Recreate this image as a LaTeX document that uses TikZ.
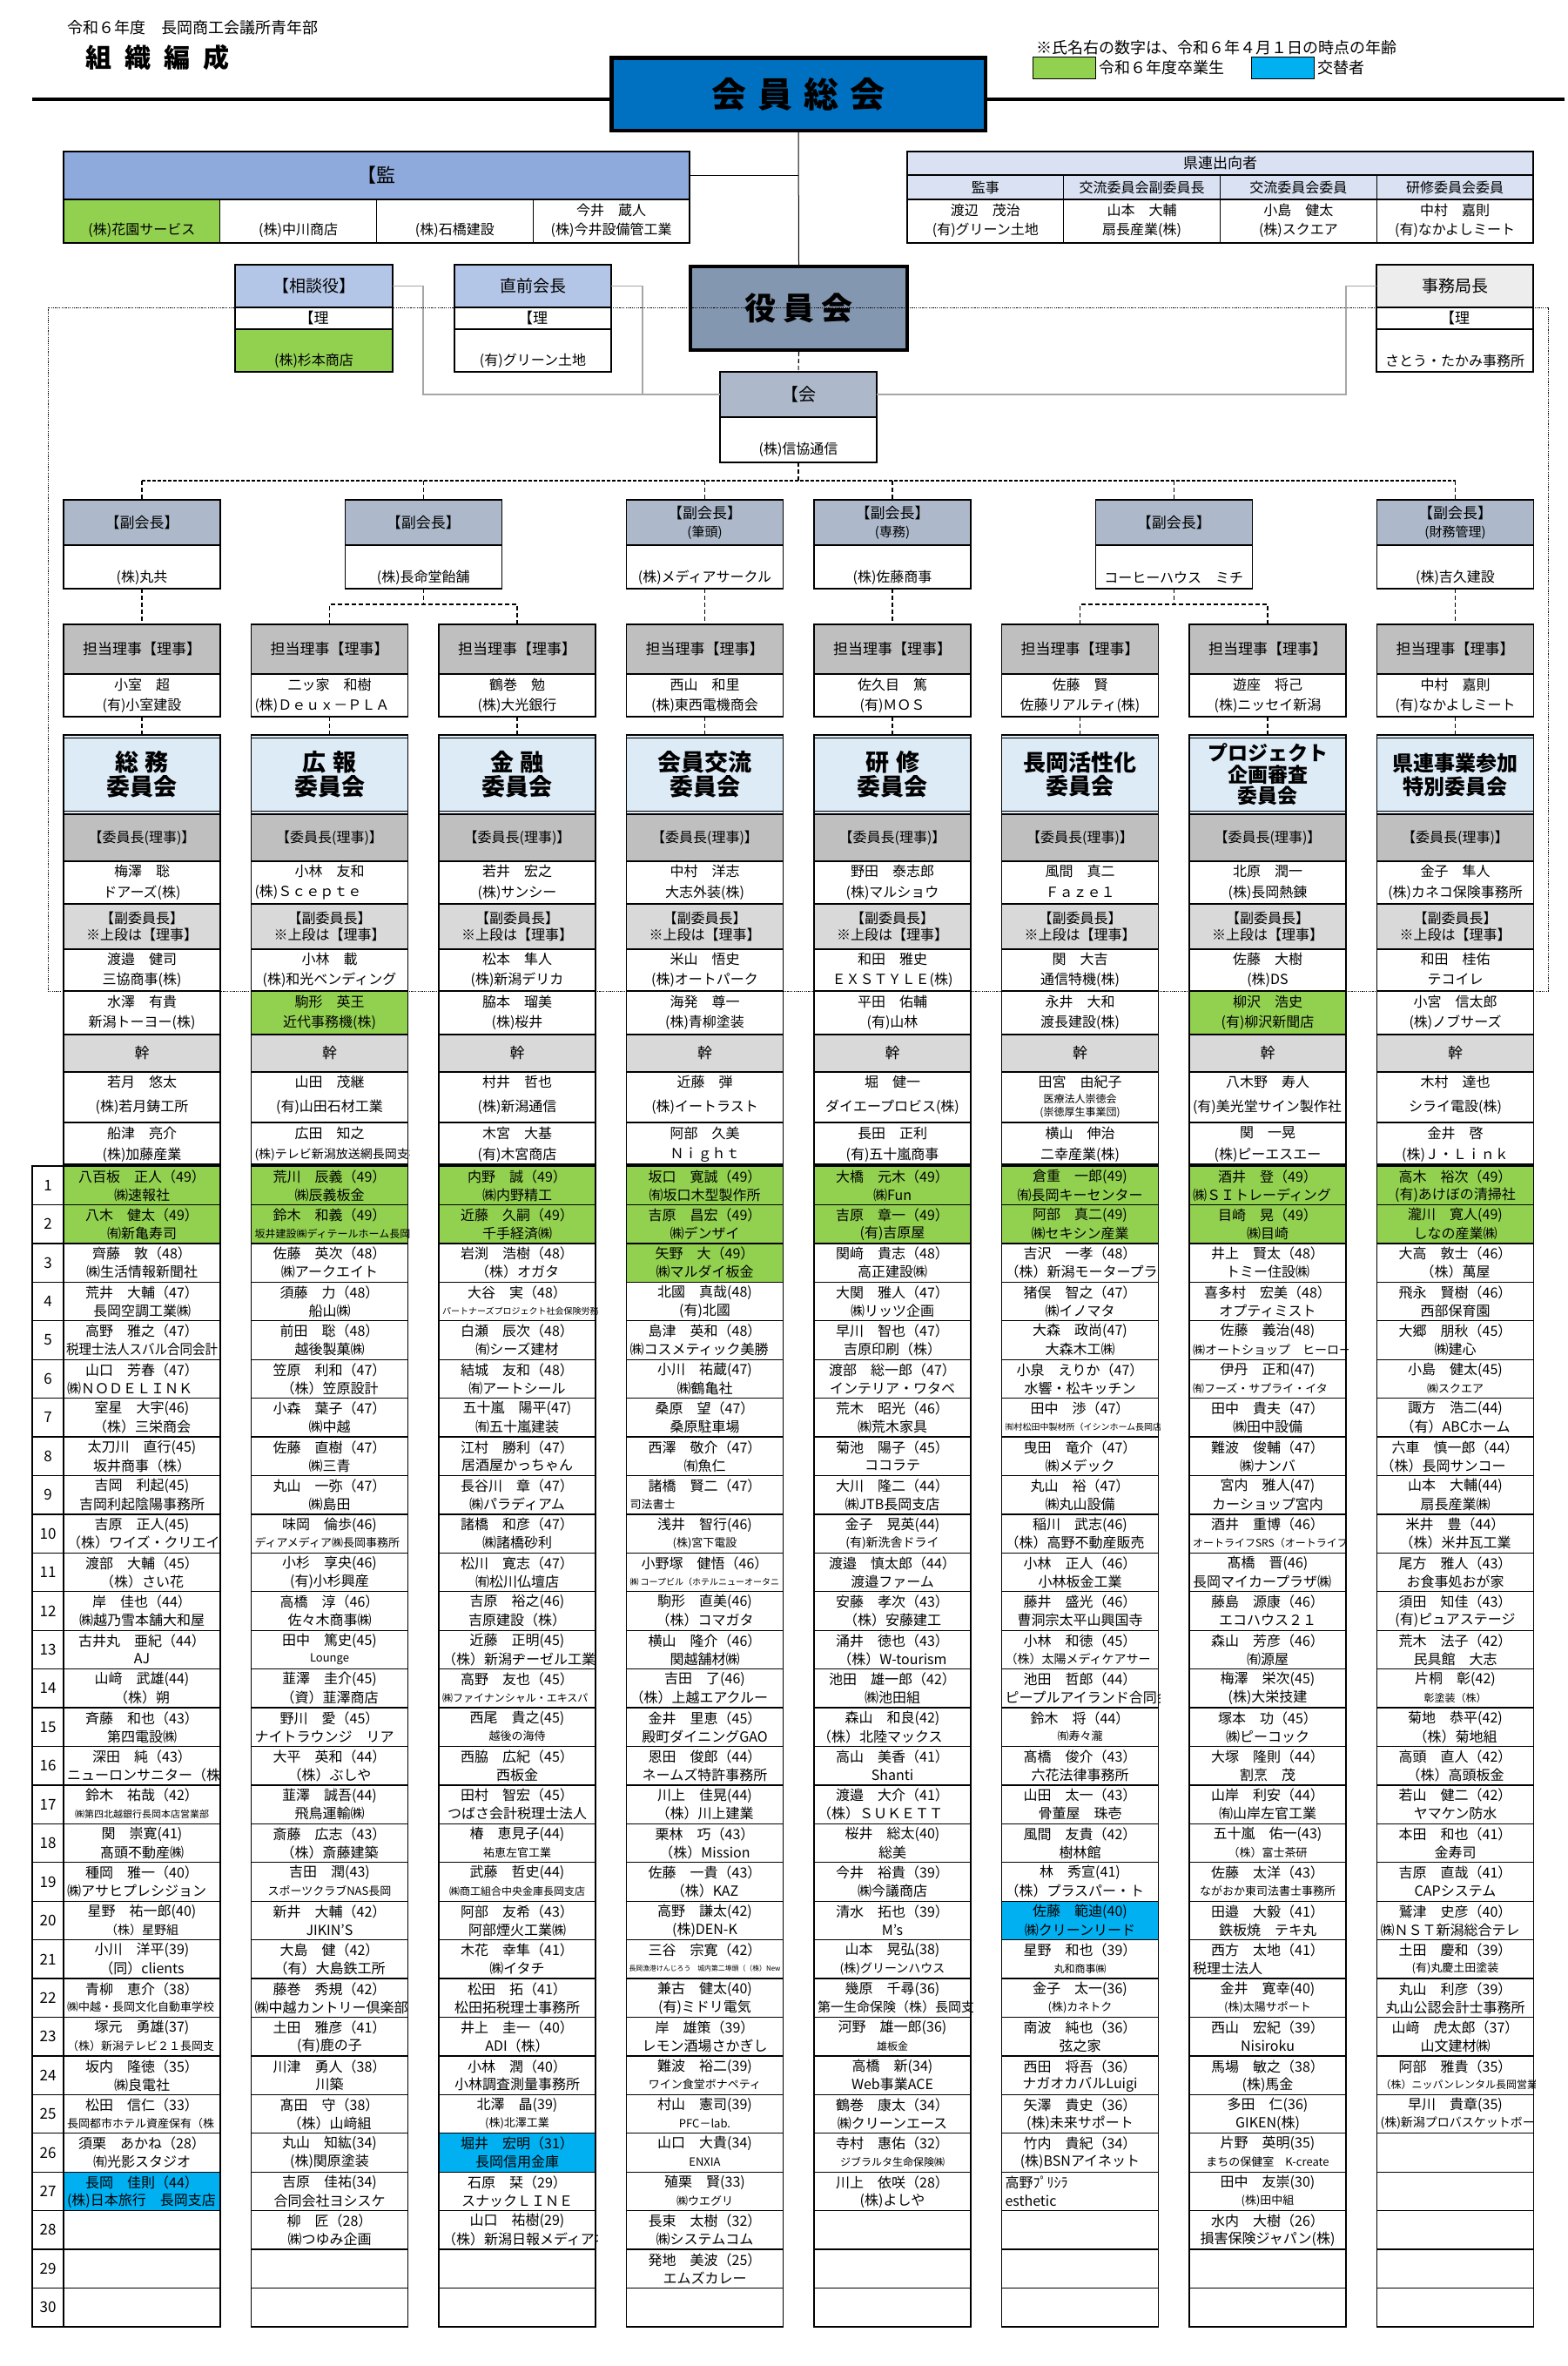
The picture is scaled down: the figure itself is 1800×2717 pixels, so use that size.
\documentclass[tikz,border=0pt]{standalone}
\usepackage{fontspec}
\setmainfont{Noto Sans CJK JP}
\usepackage{graphicx}
\definecolor{sokai}{HTML}{0070C0}
\definecolor{kanhd}{HTML}{8EA9DB}
\definecolor{kenren}{HTML}{D9E1F2}
\definecolor{sodan}{HTML}{B4C6E7}
\definecolor{yakuin}{HTML}{8497B0}
\definecolor{kaihd}{HTML}{ADB9CA}
\definecolor{jimu}{HTML}{EDEDED}
\definecolor{titlefill}{HTML}{DDEBF7}
\definecolor{hdrdark}{HTML}{BFBFBF}
\definecolor{hdrlight}{HTML}{D9D9D9}
\definecolor{gr}{HTML}{92D050}
\definecolor{bl}{HTML}{00B0F0}
\definecolor{connc}{HTML}{A6A6A6}
\newsavebox\fitbox
\newcommand\fitc[1]{\sbox\fitbox{#1}\ifdim\wd\fitbox>174pt\relax\resizebox{174pt}{\height}{\usebox\fitbox}\else\usebox\fitbox\fi}
\newcommand\clipt[1]{\makebox[172pt][l]{#1}}
\newcommand\fs[1]{\fontsize{#1}{#1}\selectfont}
\newcommand\sz[2]{{\fontsize{#1}{#1}\selectfont #2}}
\newcommand\ttl{\bfseries\fontsize{27}{28}\selectfont}
\tikzset{
 cbox/.style={draw, line width=1.3pt, anchor=north west, minimum width=180pt, inner sep=0pt, outer sep=0pt, font=\fs{16}},
 txt/.style={inner sep=0pt, font=\fs{16}},
 dsh/.style={line width=1.1pt, dash pattern=on 5pt off 3pt},
 conn/.style={line width=1.5pt, draw=connc},
}
\newcommand\colstart[1]{\pgfmathsetmacro\cx{73+215.5*(#1-1)}\pgfmathsetmacro\cxm{\cx+90}\edef\ci{#1}}
\newcommand\tanto[2]{%
 \node[cbox, fill=hdrdark, minimum height=57pt, font=\fs{17}] (th\ci) at (\cx,717) {担当理事【理事】};
 \node[cbox, minimum height=49pt] (tb\ci) at (\cx,774) {};
 \node[txt] (tbn\ci) at (\cxm,786) {\fitc{#1}};
 \node[txt] (tbc\ci) at (\cxm,810) {\fitc{#2}};}
\newcommand\ctitle[2]{%
 \node[cbox, fill=titlefill, minimum height=91pt, align=center, font=#1] (ct\ci) at (\cx,844) {#2};
 \draw[line width=1.3pt] (\cx,847.5) -- ++(180,0);
 \draw[line width=1.3pt] (\cx,931.5) -- ++(180,0);
 \draw[dsh] (tb\ci.south) -- (ct\ci.north);}
\newcommand\chair[2]{%
 \node[cbox, fill=hdrdark, minimum height=54pt] (chh\ci) at (\cx,935) {【委員長(理事)】};
 \node[cbox, minimum height=49pt] (chb\ci) at (\cx,989) {};
 \node[txt] (chn\ci) at (\cxm,1000) {\fitc{#1}};
 \node[txt] (chc\ci) at (\cxm,1025) {\fitc{#2}};
 \node[cbox, fill=hdrlight, minimum height=52pt, align=center, font=\fontsize{16}{19}\selectfont] (vh\ci) at (\cx,1038) {【副委員長】\\※上段は【理事】};}
\newcommand\viceA[3]{%
 \node[cbox, fill=#1, minimum height=48pt] (va\ci) at (\cx,1090) {};
 \node[txt] (van\ci) at (\cxm,1101) {\fitc{#2}};
 \node[txt] (vac\ci) at (\cxm,1125) {\fitc{#3}};}
\newcommand\viceB[3]{%
 \node[cbox, fill=#1, minimum height=50pt] (vb\ci) at (\cx,1138) {};
 \node[txt] (vbn\ci) at (\cxm,1150) {\fitc{#2}};
 \node[txt] (vbc\ci) at (\cxm,1174) {\fitc{#3}};}
\newcommand\kan[4]{%
 \node[cbox, fill=hdrlight, minimum height=43pt, font=\fs{17}] (kh\ci) at (\cx,1188) {幹};
 \node[cbox, minimum height=58pt] (ka\ci) at (\cx,1231) {};
 \node[txt] (kan\ci) at (\cxm,1242) {\fitc{#1}};
 \node[txt] (kac\ci) at (\cxm,1271) {\fitc{#2}};
 \node[cbox, minimum height=48pt] (kb\ci) at (\cx,1289) {};
 \node[txt] (kbn\ci) at (\cxm,1301) {\fitc{#3}};
 \node[txt] (kbc\ci) at (\cxm,1326) {\fitc{#4}};}
\newcommand\mrow[4]{%
 \pgfmathsetmacro\ry{1339+44.43*(#1-1)}%
 \node[cbox, fill=#2, minimum height=44.43pt] (m\ci-#1) at (\cx,\ry) {};
 \node[txt] (m\ci-#1n) at (\cxm,\ry+12) {\fitc{#3}};
 \node[txt] (m\ci-#1c) at (\cxm,\ry+33) {\fitc{#4}};}
\newcommand\erows[2]{\foreach \rr in {#1,...,#2}{\pgfmathsetmacro\ry{1339+44.43*(\rr-1)}\node[cbox, minimum height=44.43pt] (m\ci-\rr) at (\cx,\ry) {};}}
\newcommand\colend{\draw[line width=3pt] (\cx,1338) -- ++(180,0);}
\newcommand\fuku[4]{%
 \node[cbox, fill=kaihd, minimum height=52pt, align=center, font=\fontsize{17}{21}\selectfont] (#1h) at (#2,574) {#3};
 \node[cbox, minimum height=50pt] (#1b) at (#2,626) {};
 \node[txt] (#1c) at (#2+90,663) {\fitc{#4}};}
\begin{document}
\begin{tikzpicture}[x=1pt, y=-1pt, line join=miter]
\fill[white] (0,0) rectangle (1800,2717);
\useasboundingbox (0,0) rectangle (1800,2717);
% ---- header
\node[anchor=west, inner sep=0, font=\fs{18}] (hdr1) at (77,32) {令和６年度　長岡商工会議所青年部};
\node[anchor=west, inner sep=0, font=\bfseries\fs{30}] (hdr2) at (98,66) {組\hspace{15pt}織\hspace{15pt}編\hspace{15pt}成};
\draw[line width=4.5pt] (37,114) -- (1797,114);
\node[draw, line width=4.5pt, fill=sokai, minimum width=429.5pt, minimum height=83.5pt, inner sep=0, font=\bfseries\fs{40}] (sokai) at (917,108) {会\hspace{13pt}員\hspace{13pt}総\hspace{13pt}会};
\node[anchor=west, inner sep=0, font=\fs{18}] (note) at (1190,55) {※氏名右の数字は、令和６年４月１日の時点の年齢};
\node[draw, line width=1.3pt, fill=gr, anchor=north west, minimum width=72pt, minimum height=25pt, inner sep=0] (leggr) at (1186,65) {};
\node[anchor=west, inner sep=0, font=\fs{18}] (leggrt) at (1262,78) {令和６年度卒業生};
\node[draw, line width=1.3pt, fill=bl, anchor=north west, minimum width=72pt, minimum height=25pt, inner sep=0] (legbl) at (1437,65) {};
\node[anchor=west, inner sep=0, font=\fs{18}] (legblt) at (1513,78) {交替者};
% ---- audit
\node[cbox, minimum width=719pt, minimum height=55pt, fill=kanhd, font=\fs{22}] (audh) at (73,174) {【監};
\node[cbox, minimum width=179.75pt, minimum height=50pt, fill=gr] (aud1) at (73,229) {};
\node[cbox, minimum width=179.75pt, minimum height=50pt] (aud2) at (252.75,229) {};
\node[cbox, minimum width=179.75pt, minimum height=50pt] (aud3) at (432.5,229) {};
\node[cbox, minimum width=179.75pt, minimum height=50pt] (aud4) at (612.25,229) {};
\node[txt] (aud1c) at (162.9,264) {(株)花園サービス};
\node[txt] (aud2c) at (342.6,264) {(株)中川商店};
\node[txt] (aud3c) at (522.4,264) {(株)石橋建設};
\node[txt] (aud4n) at (702.1,241) {今井　蔵人};
\node[txt] (aud4c) at (702.1,264) {(株)今井設備管工業};
% ---- kenren
\node[cbox, minimum width=719pt, minimum height=27pt, fill=kenren, font=\fs{17}] (kenh) at (1042,174) {県連出向者};
\foreach \i/\lab in {1/監事, 2/交流委員会副委員長, 3/交流委員会委員, 4/研修委員会委員} {
 \pgfmathsetmacro\kx{1042+179.75*(\i-1)}
 \node[cbox, minimum width=179.75pt, minimum height=28pt, fill=kenren] (kenl\i) at (\kx,201) {\lab};
 \node[cbox, minimum width=179.75pt, minimum height=50pt] (kenb\i) at (\kx,229) {};
}
\node[txt] (ken1n) at (1131.9,241) {渡辺　茂治};
\node[txt] (ken1c) at (1131.9,264) {(有)グリーン土地};
\node[txt] (ken2n) at (1311.6,241) {山本　大輔};
\node[txt] (ken2c) at (1311.6,264) {扇長産業(株)};
\node[txt] (ken3n) at (1491.4,241) {小島　健太};
\node[txt] (ken3c) at (1491.4,264) {(株)スクエア};
\node[txt] (ken4n) at (1671.1,241) {中村　嘉則};
\node[txt] (ken4c) at (1671.1,264) {(有)なかよしミート};
% ---- yakuin
\node[draw, line width=4pt, fill=yakuin, minimum width=249pt, minimum height=96pt, inner sep=0, font=\bfseries\fs{36}] (yakuin) at (917.5,354) {役\hspace{8pt}員\hspace{8pt}会};
% sodan
\node[cbox, minimum width=181pt, minimum height=49pt, fill=sodan, font=\fs{19}] (sodh) at (270,304) {【相談役】};
\node[cbox, minimum width=181pt, minimum height=25pt, font=\fs{17}] (sodr) at (270,353) {【理};
\node[cbox, minimum width=181pt, minimum height=49pt, fill=gr] (sodb) at (270,378) {};
\node[txt] (sodc) at (360.5,414) {(株)杉本商店};
\node[cbox, minimum width=180pt, minimum height=49pt, fill=sodan, font=\fs{19}] (zenh) at (522,304) {直前会長};
\node[cbox, minimum width=180pt, minimum height=25pt, font=\fs{17}] (zenr) at (522,353) {【理};
\node[cbox, minimum width=180pt, minimum height=49pt] (zenb) at (522,378) {};
\node[txt] (zenc) at (612,414) {(有)グリーン土地};
\node[cbox, minimum width=180pt, minimum height=49pt, fill=jimu, font=\fs{19}] (jimh) at (1581,304) {事務局長};
\node[cbox, minimum width=180pt, minimum height=25pt, font=\fs{17}] (jimr) at (1581,353) {【理};
\node[cbox, minimum width=180pt, minimum height=49pt] (jimb) at (1581,378) {};
\node[txt] (jimc) at (1671,414) {さとう・たかみ事務所};
\node[cbox, fill=kaihd, minimum height=52pt, font=\fs{20}] (kaih) at (827,427) {【会};
\node[cbox, minimum height=52pt] (kaib) at (827,479) {};
\node[txt] (kaic) at (917,516) {(株)信協通信};
% ---- vice presidents
\fuku{fk1}{73}{【副会長】}{(株)丸共}
\fuku{fk2}{396.25}{【副会長】}{(株)長命堂飴舗}
\fuku{fk3}{719.5}{【副会長】\\{\fs{15}(筆頭)}}{(株)メディアサークル}
\fuku{fk4}{935}{【副会長】\\{\fs{15}(専務)}}{(株)佐藤商事}
\fuku{fk5}{1258.25}{【副会長】}{コーヒーハウス　ミチ}
\fuku{fk6}{1581.5}{【副会長】\\{\fs{15}(財務管理)}}{(株)吉久建設}
% ---- number column
\foreach \nn in {1,...,30} {
 \pgfmathsetmacro\ny{1339+44.43*(\nn-1)}
 \node[cbox, minimum width=36pt, minimum height=44.43pt, font=\fs{17}] (num\nn) at (37,\ny) {\nn};
}
% ================= column 1
\colstart{1}
\begin{scope}
\clip (\cx-2,700) rectangle (\cx+182,2680);
\tanto{小室　超}{(有)小室建設}
\ctitle{\ttl}{総\hspace{8pt}務\\委員会}
\chair{梅澤　聡}{ドアーズ(株)}
\viceA{white}{渡邉　健司}{三協商事(株)}
\viceB{white}{水澤　有貴}{新潟トーヨー(株)}
\kan{若月　悠太}{(株)若月鋳工所}{船津　亮介}{(株)加藤産業}
\mrow{1}{gr}{八百板　正人（49）}{㈱速報社}
\mrow{2}{gr}{八木　健太（49）}{㈲新亀寿司}
\mrow{3}{white}{齊藤　敦（48）}{㈱生活情報新聞社}
\mrow{4}{white}{荒井　大輔（47）}{長岡空調工業㈱}
\mrow{5}{white}{高野　雅之（47）}{税理士法人スバル合同会計}
\mrow{6}{white}{山口　芳春（47）}{\clipt{㈱ＮＯＤＥＬＩＮＫ}}
\mrow{7}{white}{室星　大宇(46)}{（株）三栄商会}
\mrow{8}{white}{太刀川　直行(45)}{坂井商事（株）}
\mrow{9}{white}{吉岡　利起(45)}{吉岡利起陰陽事務所}
\mrow{10}{white}{吉原　正人(45)}{\clipt{（株）ワイズ・クリエイ}}
\mrow{11}{white}{渡部　大輔（45）}{（株）さい花}
\mrow{12}{white}{岸　佳也（44）}{㈱越乃雪本舗大和屋}
\mrow{13}{white}{古井丸　亜紀（44）}{AJ}
\mrow{14}{white}{山﨑　武雄(44)}{（株）朔}
\mrow{15}{white}{斉藤　和也（43）}{第四電設㈱}
\mrow{16}{white}{深田　純（43）}{\clipt{ニューロンサニター（株}}
\mrow{17}{white}{鈴木　祐哉（42）}{\sz{11}{㈱第四北越銀行長岡本店営業部}}
\mrow{18}{white}{関　崇寛(41)}{髙頭不動産㈱}
\mrow{19}{white}{種岡　雅一（40）}{\clipt{㈱アサヒプレシジョン}}
\mrow{20}{white}{星野　祐一郎(40)}{\sz{14}{（株）星野組}}
\mrow{21}{white}{小川　洋平(39)}{（同）clients}
\mrow{22}{white}{青柳　恵介（38）}{\clipt{\sz{13}{㈱中越・長岡文化自動車学校}}}
\mrow{23}{white}{塚元　勇雄(37)}{\clipt{\sz{13}{（株）新潟テレビ２１長岡支}}}
\mrow{24}{white}{坂内　隆徳（35）}{㈱良電社}
\mrow{25}{white}{松田　信仁（33）}{\clipt{\sz{13}{長岡都市ホテル資産保有（株}}}
\mrow{26}{white}{須栗　あかね（28）}{㈲光影スタジオ}
\mrow{27}{bl}{長岡　佳則（44）}{\clipt{(株)日本旅行　長岡支店}}
\erows{28}{30}
\colend
\end{scope}
% ================= column 2
\colstart{2}
\begin{scope}
\clip (\cx-2,700) rectangle (\cx+182,2680);
\tanto{二ッ家　和樹}{\clipt{(株)Ｄｅｕｘ－ＰＬＡ}}
\ctitle{\ttl}{広\hspace{8pt}報\\委員会}
\chair{小林　友和}{\clipt{(株)Ｓｃｅｐｔｅ}}
\viceA{white}{小林　載}{(株)和光ベンディング}
\viceB{gr}{駒形　英王}{近代事務機(株)}
\kan{山田　茂継}{(有)山田石材工業}{広田　知之}{\clipt{\sz{14}{(株)テレビ新潟放送網長岡支社}}}
\mrow{1}{gr}{荒川　辰義（49）}{㈱辰義板金}
\mrow{2}{gr}{鈴木　和義（49）}{\clipt{\sz{12}{坂井建設㈱ディテールホーム長岡支店}}}
\mrow{3}{white}{佐藤　英次（48）}{㈱アークエイト}
\mrow{4}{white}{須藤　力（48）}{船山㈱}
\mrow{5}{white}{前田　聡（48）}{越後製菓㈱}
\mrow{6}{white}{笠原　利和（47）}{（株）笠原設計}
\mrow{7}{white}{小森　葉子（47）}{㈱中越}
\mrow{8}{white}{佐藤　直樹（47）}{㈱三青}
\mrow{9}{white}{丸山　一弥（47）}{㈱島田}
\mrow{10}{white}{味岡　倫歩(46)}{\clipt{\sz{13}{ディアメディア㈱長岡事務所}}}
\mrow{11}{white}{小杉　享央(46)}{(有)小杉興産}
\mrow{12}{white}{高橋　淳（46）}{佐々木商事㈱}
\mrow{13}{white}{田中　篤史(45)}{\sz{13}{Lounge}}
\mrow{14}{white}{韮澤　圭介(45)}{（資）韮澤商店}
\mrow{15}{white}{野川　愛（45）}{\clipt{ナイトラウンジ　リア}}
\mrow{16}{white}{大平　英和（44）}{（株）ぶしや}
\mrow{17}{white}{韮澤　誠吾(44)}{飛鳥運輸㈱}
\mrow{18}{white}{斎藤　広志（43）}{（株）斎藤建築}
\mrow{19}{white}{吉田　潤(43)}{\sz{13}{スポーツクラブNAS長岡}}
\mrow{20}{white}{新井　大輔（42）}{JIKIN’S}
\mrow{21}{white}{大島　健（42）}{（有）大島鉄工所}
\mrow{22}{white}{藤巻　秀規（42）}{\clipt{㈱中越カントリー倶楽部}}
\mrow{23}{white}{土田　雅彦（41）}{(有)鹿の子}
\mrow{24}{white}{川津　勇人（38）}{川築}
\mrow{25}{white}{髙田　守（38）}{（株）山﨑組}
\mrow{26}{white}{丸山　知紘(34)}{(株)関原塗装}
\mrow{27}{white}{吉原　佳祐(34)}{合同会社ヨシスケ}
\mrow{28}{white}{柳　匠（28）}{㈱つゆみ企画}
\erows{29}{30}
\colend
\end{scope}
% ================= column 3
\colstart{3}
\begin{scope}
\clip (\cx-2,700) rectangle (\cx+182,2680);
\tanto{鶴巻　勉}{(株)大光銀行}
\ctitle{\ttl}{金\hspace{8pt}融\\委員会}
\chair{若井　宏之}{(株)サンシー}
\viceA{white}{松本　隼人}{(株)新潟デリカ}
\viceB{white}{脇本　瑠美}{(株)桜井}
\kan{村井　哲也}{(株)新潟通信}{木宮　大基}{(有)木宮商店}
\mrow{1}{gr}{内野　誠（49）}{㈱内野精工}
\mrow{2}{gr}{近藤　久嗣（49）}{千手経済㈱}
\mrow{3}{white}{岩渕　浩樹（48）}{（株）オガタ}
\mrow{4}{white}{大谷　実（48）}{\clipt{\sz{10}{パートナーズプロジェクト社会保険労務士法}}}
\mrow{5}{white}{白瀬　辰次（48）}{㈲シーズ建材}
\mrow{6}{white}{結城　友和（48）}{㈲アートシール}
\mrow{7}{white}{五十嵐　陽平(47)}{㈲五十嵐建装}
\mrow{8}{white}{江村　勝利（47）}{居酒屋かっちゃん}
\mrow{9}{white}{長谷川　章（47）}{㈱パラディアム}
\mrow{10}{white}{諸橋　和彦（47）}{㈱諸橋砂利}
\mrow{11}{white}{松川　寛志（47）}{㈲松川仏壇店}
\mrow{12}{white}{吉原　裕之(46)}{吉原建設（株）}
\mrow{13}{white}{近藤　正明(45)}{\clipt{（株）新潟ヂーゼル工業}}
\mrow{14}{white}{高野　友也（45）}{\clipt{\sz{12}{㈱ファイナンシャル・エキスパ}}}
\mrow{15}{white}{西尾　貴之(45)}{\sz{13}{越後の海侍}}
\mrow{16}{white}{西脇　広紀（45）}{西板金}
\mrow{17}{white}{田村　智宏（45）}{つばさ会計税理士法人}
\mrow{18}{white}{椿　恵見子(44)}{\sz{13}{祐恵左官工業}}
\mrow{19}{white}{武藤　哲史(44)}{\sz{12}{㈱商工組合中央金庫長岡支店}}
\mrow{20}{white}{阿部　友希（43）}{阿部煙火工業㈱}
\mrow{21}{white}{木花　幸隼（41）}{㈱イタチ}
\mrow{22}{white}{松田　拓（41）}{松田拓税理士事務所}
\mrow{23}{white}{井上　圭一（40）}{ADI（株）}
\mrow{24}{white}{小林　潤（40）}{小林調査測量事務所}
\mrow{25}{white}{北澤　晶(39)}{\sz{13}{(株)北澤工業}}
\mrow{26}{bl}{堀井　宏明（31）}{長岡信用金庫}
\mrow{27}{white}{石原　栞（29）}{スナックＬＩＮＥ}
\mrow{28}{white}{山口　祐樹(29)}{\clipt{（株）新潟日報メディアネ}}
\erows{29}{30}
\colend
\end{scope}
% ================= column 4
\colstart{4}
\begin{scope}
\clip (\cx-2,700) rectangle (\cx+182,2680);
\tanto{西山　和里}{(株)東西電機商会}
\ctitle{\ttl}{会員交流\\委員会}
\chair{中村　洋志}{大志外装(株)}
\viceA{white}{米山　悟史}{(株)オートパーク}
\viceB{white}{海発　尊一}{(株)青柳塗装}
\kan{近藤　弾}{(株)イートラスト}{阿部　久美}{Ｎｉｇｈｔ}
\mrow{1}{gr}{坂口　寛誠（49）}{㈲坂口木型製作所}
\mrow{2}{gr}{吉原　昌宏（49）}{㈱デンザイ}
\mrow{3}{gr}{矢野　大（49）}{㈱マルダイ板金}
\mrow{4}{white}{北國　真哉(48)}{(有)北國}
\mrow{5}{white}{島津　英和（48）}{\clipt{㈱コスメティック美勝}}
\mrow{6}{white}{小川　祐蔵(47)}{㈱鶴亀社}
\mrow{7}{white}{桑原　望（47）}{桑原駐車場}
\mrow{8}{white}{西澤　敬介（47）}{㈲魚仁}
\mrow{9}{white}{諸橋　賢二（47）}{\clipt{\sz{13}{司法書士}}}
\mrow{10}{white}{浅井　智行(46)}{\sz{13}{(株)宮下電設}}
\mrow{11}{white}{小野塚　健悟（46）}{\clipt{\sz{10}{㈱ コープビル（ホテルニューオータニ}}}
\mrow{12}{white}{駒形　直美(46)}{（株）コマガタ}
\mrow{13}{white}{横山　隆介（46）}{関越舗材㈱}
\mrow{14}{white}{吉田　了(46)}{\clipt{（株）上越エアクルー}}
\mrow{15}{white}{金井　里恵（45）}{殿町ダイニングGAO}
\mrow{16}{white}{恩田　俊郎（44）}{ネームズ特許事務所}
\mrow{17}{white}{川上　佳晃(44)}{（株）川上建業}
\mrow{18}{white}{栗林　巧（43）}{（株）Mission}
\mrow{19}{white}{佐藤　一貴（43）}{（株）KAZ}
\mrow{20}{white}{高野　謙太(42)}{(株)DEN-K}
\mrow{21}{white}{三谷　宗寛（42）}{\sz{8}{長岡漁港けんじろう　城内第二埠頭（（株）New}}
\mrow{22}{white}{兼古　健太(40)}{(有)ミドリ電気}
\mrow{23}{white}{岸　雄策（39）}{レモン酒場さかぎし}
\mrow{24}{white}{難波　裕二(39)}{\sz{13}{ワイン食堂ボナペティ}}
\mrow{25}{white}{村山　憲司(39)}{\sz{13}{PFC－lab.}}
\mrow{26}{white}{山口　大貴(34)}{\sz{13}{ENXIA}}
\mrow{27}{white}{殖栗　賢(33)}{\sz{13}{㈱ウエグリ}}
\mrow{28}{white}{長束　太樹（32）}{㈱システムコム}
\mrow{29}{white}{発地　美波（25）}{エムズカレー}
\erows{30}{30}
\colend
\end{scope}
% ================= column 5
\colstart{5}
\begin{scope}
\clip (\cx-2,700) rectangle (\cx+182,2680);
\tanto{佐久目　篤}{(有)ＭＯＳ}
\ctitle{\ttl}{研\hspace{8pt}修\\委員会}
\chair{野田　泰志郎}{(株)マルショウ}
\viceA{white}{和田　雅史}{ＥＸＳＴＹＬＥ(株)}
\viceB{white}{平田　佑輔}{(有)山林}
\kan{堀　健一}{ダイエープロビス(株)}{長田　正利}{(有)五十嵐商事}
\mrow{1}{gr}{大橋　元木（49）}{㈱Fun}
\mrow{2}{gr}{吉原　章一（49）}{(有)吉原屋}
\mrow{3}{white}{関﨑　貴志（48）}{高正建設㈱}
\mrow{4}{white}{大関　雅人（47）}{㈱リッツ企画}
\mrow{5}{white}{早川　智也（47）}{吉原印刷（株）}
\mrow{6}{white}{渡部　総一郎（47）}{インテリア・ワタベ}
\mrow{7}{white}{荒木　昭光（46）}{㈱荒木家具}
\mrow{8}{white}{菊池　陽子（45）}{ココラテ}
\mrow{9}{white}{大川　隆二（44）}{㈱JTB長岡支店}
\mrow{10}{white}{金子　晃英(44)}{\sz{14}{(有)新洗舎ドライ}}
\mrow{11}{white}{渡邉　慎太郎（44）}{渡邉ファーム}
\mrow{12}{white}{安藤　孝次（43）}{（株）安藤建工}
\mrow{13}{white}{涌井　徳也（43）}{（株）W-tourism}
\mrow{14}{white}{池田　雄一郎（42）}{㈱池田組}
\mrow{15}{white}{森山　和良(42)}{\clipt{（株）北陸マックス}}
\mrow{16}{white}{高山　美香（41）}{Shanti}
\mrow{17}{white}{渡邉　大介（41）}{\clipt{（株）ＳＵＫＥＴＴ}}
\mrow{18}{white}{桜井　総太(40)}{総美}
\mrow{19}{white}{今井　裕貴（39）}{㈱今議商店}
\mrow{20}{white}{清水　拓也（39）}{M’s}
\mrow{21}{white}{山本　晃弘(38)}{\sz{14}{(株)グリーンハウス}}
\mrow{22}{white}{幾原　千尋(36)}{\clipt{\sz{15}{第一生命保険（株）長岡支}}}
\mrow{23}{white}{河野　雄一郎(36)}{\sz{12}{雄板金}}
\mrow{24}{white}{高橋　新(34)}{Web事業ACE}
\mrow{25}{white}{鶴巻　康太（34）}{㈱クリーンエース}
\mrow{26}{white}{寺村　惠佑（32）}{\sz{12}{ジブラルタ生命保険㈱}}
\mrow{27}{white}{川上　依咲（28）}{(株)よしや}
\erows{28}{30}
\colend
\end{scope}
% ================= column 6
\colstart{6}
\begin{scope}
\clip (\cx-2,700) rectangle (\cx+182,2680);
\tanto{佐藤　賢}{佐藤リアルティ(株)}
\ctitle{\bfseries\fontsize{26}{27}\selectfont}{長岡活性化\\委員会}
\chair{風間　真二}{Ｆａｚｅ１}
\viceA{white}{関　大吉}{通信特機(株)}
\viceB{white}{永井　大和}{渡長建設(株)}
\kan{田宮　由紀子}{{\fontsize{12}{14}\selectfont\begin{tabular}{@{}c@{}}医療法人崇徳会\\(崇徳厚生事業団)\end{tabular}}}{横山　伸治}{二幸産業(株)}
\mrow{1}{gr}{倉重　一郎(49)}{㈲長岡キーセンター}
\mrow{2}{gr}{阿部　真二(49)}{㈱セキシン産業}
\mrow{3}{white}{吉沢　一孝（48）}{\clipt{（株）新潟モータープラ}}
\mrow{4}{white}{猪俣　智之（47）}{㈱イノマタ}
\mrow{5}{white}{大森　政尚(47)}{大森木工㈱}
\mrow{6}{white}{小泉　えりか（47）}{水響・松キッチン}
\mrow{7}{white}{田中　渉（47）}{\clipt{\sz{10}{㈲村松田中製材所（イシンホーム長岡店}}}
\mrow{8}{white}{曳田　竜介（47）}{㈱メデック}
\mrow{9}{white}{丸山　裕（47）}{㈱丸山設備}
\mrow{10}{white}{稲川　武志(46)}{\clipt{（株）高野不動産販売}}
\mrow{11}{white}{小林　正人（46）}{小林板金工業}
\mrow{12}{white}{藤井　盛光（46）}{曹洞宗太平山興国寺}
\mrow{13}{white}{小林　和徳（45）}{\clipt{\sz{14}{（株）太陽メディケアサー}}}
\mrow{14}{white}{池田　哲郎（44）}{\clipt{ピープルアイランド合同会}}
\mrow{15}{white}{鈴木　将（44）}{\sz{13}{㈲寿々瀧}}
\mrow{16}{white}{髙橋　俊介（43）}{六花法律事務所}
\mrow{17}{white}{山田　太一（43）}{骨董屋　珠壱}
\mrow{18}{white}{風間　友貴（42）}{樹林館}
\mrow{19}{white}{林　秀宣(41)}{\clipt{（株）プラスパー・ト}}
\mrow{20}{bl}{佐藤　範迪(40)}{㈱クリーンリード}
\mrow{21}{white}{星野　和也（39）}{\sz{12}{丸和商事㈱}}
\mrow{22}{white}{金子　太一(36)}{\sz{13}{(株)カネトク}}
\mrow{23}{white}{南波　純也（36）}{弦之家}
\mrow{24}{white}{西田　将吾（36）}{ナガオカバルLuigi}
\mrow{25}{white}{矢澤　貴史（36）}{(株)未来サポート}
\mrow{26}{white}{竹内　貴紀（34）}{(株)BSNアイネット}
\mrow{27}{white}{\clipt{高野ﾌﾟﾘｼﾗ}}{\clipt{esthetic}}
\erows{28}{30}
\colend
\end{scope}
% ================= column 7
\colstart{7}
\begin{scope}
\clip (\cx-2,700) rectangle (\cx+182,2680);
\tanto{遊座　将己}{(株)ニッセイ新潟}
\ctitle{\bfseries\fontsize{23}{24.5}\selectfont}{プロジェクト\\企画審査\\委員会}
\chair{北原　潤一}{(株)長岡熱錬}
\viceA{white}{佐藤　大樹}{(株)DS}
\viceB{gr}{柳沢　浩史}{(有)柳沢新聞店}
\kan{八木野　寿人}{\clipt{(有)美光堂サイン製作社}}{関　一晃}{(株)ピーエスエー}
\mrow{1}{gr}{酒井　登（49）}{\clipt{㈱ＳＩトレーディング}}
\mrow{2}{gr}{目崎　晃（49）}{㈱目崎}
\mrow{3}{white}{井上　賢太（48）}{トミー住設㈱}
\mrow{4}{white}{喜多村　宏美（48）}{オプティミスト}
\mrow{5}{white}{佐藤　義治(48)}{\clipt{\sz{14}{㈱オートショップ　ヒーロー}}}
\mrow{6}{white}{伊丹　正和(47)}{\clipt{\sz{13}{㈲フーズ・サプライ・イタ}}}
\mrow{7}{white}{田中　貴夫（47）}{㈱田中設備}
\mrow{8}{white}{難波　俊輔（47）}{㈱ナンバ}
\mrow{9}{white}{宮内　雅人(47)}{カーショップ宮内}
\mrow{10}{white}{酒井　重博（46）}{\clipt{\sz{12}{オートライフSRS（オートライフし}}}
\mrow{11}{white}{髙橋　晋(46)}{\clipt{長岡マイカープラザ㈱}}
\mrow{12}{white}{藤島　源康（46）}{エコハウス２１}
\mrow{13}{white}{森山　芳彦（46）}{㈲源屋}
\mrow{14}{white}{梅澤　栄次(45)}{(株)大栄技建}
\mrow{15}{white}{塚本　功（45）}{㈱ピーコック}
\mrow{16}{white}{大塚　隆則（44）}{割烹　茂}
\mrow{17}{white}{山岸　利安（44）}{㈲山岸左官工業}
\mrow{18}{white}{五十嵐　佑一(43)}{\sz{13}{（株）富士茶研}}
\mrow{19}{white}{佐藤　太洋（43）}{\sz{13}{ながおか東司法書士事務所}}
\mrow{20}{white}{田邉　大毅（41）}{鉄板焼　テキ丸}
\mrow{21}{white}{西方　太地（41）}{\clipt{税理士法人}}
\mrow{22}{white}{金井　寛幸(40)}{\sz{13}{(株)太陽サポート}}
\mrow{23}{white}{西山　宏紀（39）}{Nisiroku}
\mrow{24}{white}{馬場　敏之（38）}{(株)馬金}
\mrow{25}{white}{多田　仁(36)}{GIKEN(株)}
\mrow{26}{white}{片野　英明(35)}{\sz{13}{まちの保健室　K-create}}
\mrow{27}{white}{田中　友崇(30)}{\sz{13}{(株)田中組}}
\mrow{28}{white}{水内　大樹（26）}{損害保険ジャパン(株)}
\erows{29}{30}
\colend
\end{scope}
% ================= column 8
\colstart{8}
\begin{scope}
\clip (\cx-2,700) rectangle (\cx+182,2680);
\tanto{中村　嘉則}{(有)なかよしミート}
\ctitle{\bfseries\fontsize{24}{27}\selectfont}{県連事業参加\\特別委員会}
\chair{金子　隼人}{(株)カネコ保険事務所}
\viceA{white}{和田　桂佑}{テコイレ}
\viceB{white}{小宮　信太郎}{(株)ノブサーズ}
\kan{木村　達也}{シライ電設(株)}{金井　啓}{(株)Ｊ・Ｌｉｎｋ}
\mrow{1}{gr}{高木　裕次（49）}{(有)あけぼの清掃社}
\mrow{2}{gr}{瀧川　寛人(49)}{しなの産業㈱}
\mrow{3}{white}{大高　敦士（46）}{（株）萬屋}
\mrow{4}{white}{飛永　賢樹（46）}{西部保育園}
\mrow{5}{white}{大郷　朋秋（45）}{㈱建心}
\mrow{6}{white}{小島　健太(45)}{\sz{13}{㈱スクエア}}
\mrow{7}{white}{諏方　浩二(44)}{（有）ABCホーム}
\mrow{8}{white}{六車　慎一郎（44）}{\clipt{（株）長岡サンコー}}
\mrow{9}{white}{山本　大輔(44)}{扇長産業㈱}
\mrow{10}{white}{米井　豊（44）}{（株）米井瓦工業}
\mrow{11}{white}{尾方　雅人（43）}{お食事処おが家}
\mrow{12}{white}{須田　知佳（43）}{(有)ピュアステージ}
\mrow{13}{white}{荒木　法子（42）}{民具館　大志}
\mrow{14}{white}{片桐　彰(42)}{\sz{12}{彰塗装（株）}}
\mrow{15}{white}{菊地　恭平(42)}{（株）菊地組}
\mrow{16}{white}{高頭　直人（42）}{（株）高頭板金}
\mrow{17}{white}{若山　健二（42）}{ヤマケン防水}
\mrow{18}{white}{本田　和也（41）}{金寿司}
\mrow{19}{white}{吉原　直哉（41）}{CAPシステム}
\mrow{20}{white}{鷲津　史彦（40）}{\clipt{㈱ＮＳＴ新潟総合テレ}}
\mrow{21}{white}{土田　慶和（39）}{\sz{13}{(有)丸慶土田塗装}}
\mrow{22}{white}{丸山　利彦（39）}{丸山公認会計士事務所}
\mrow{23}{white}{山﨑　虎太郎（37）}{山文建材㈱}
\mrow{24}{white}{阿部　雅貴（35）}{\clipt{\sz{12}{（株）ニッパンレンタル長岡営業}}}
\mrow{25}{white}{早川　貴章(35)}{\clipt{\sz{14}{(株)新潟プロバスケットボー}}}
\erows{26}{30}
\colend
\end{scope}
% ================= connectors
\draw[line width=1pt] (sokai.south) -- (yakuin.north);
\coordinate (audj) at (audh.east -| sokai.south);
\draw[line width=1pt] (audh.east) -- (audj);
\draw[dsh] (yakuin.south) -- (kaih.north);
\draw[conn] (sodh.east) -- ++(35,0) |- (kaih.west);
\draw[conn] (zenh.east) -- ++(36,0) |- (kaih.west);
\draw[conn] (jimh.west) -- ++(-35,0) |- (kaih.east);
\coordinate (bus) at (917,552);
\draw[dsh] (kaib.south) -- (bus);
\draw[dsh, dash pattern=on 4pt off 2pt] (fk1h.north |- bus) -- (fk6h.north |- bus);
\foreach \f in {fk1,fk2,fk3,fk4,fk5,fk6} {\draw[dsh] (\f h.north |- bus) -- (\f h.north);}
\draw[dsh] (fk1b.south) -- (th1.north);
\draw[dsh] (fk3b.south) -- (th4.north);
\draw[dsh] (fk4b.south) -- (th5.north);
\draw[dsh] (fk6b.south) -- (th8.north);
\coordinate (sp2) at (486.25,694);
\coordinate (sp5) at (1348.25,694);
\draw[dsh] (fk2b.south) -- (sp2);
\draw[dsh] (th2.north) |- (sp2) -| (th3.north);
\draw[dsh] (fk5b.south) -- (sp5);
\draw[dsh] (th6.north) |- (sp5) -| (th7.north);
% dotted frame
\draw[line width=1pt, dash pattern=on 1.2pt off 1.2pt] (55,353) rectangle (1778,1138);
\end{tikzpicture}
\end{document}
